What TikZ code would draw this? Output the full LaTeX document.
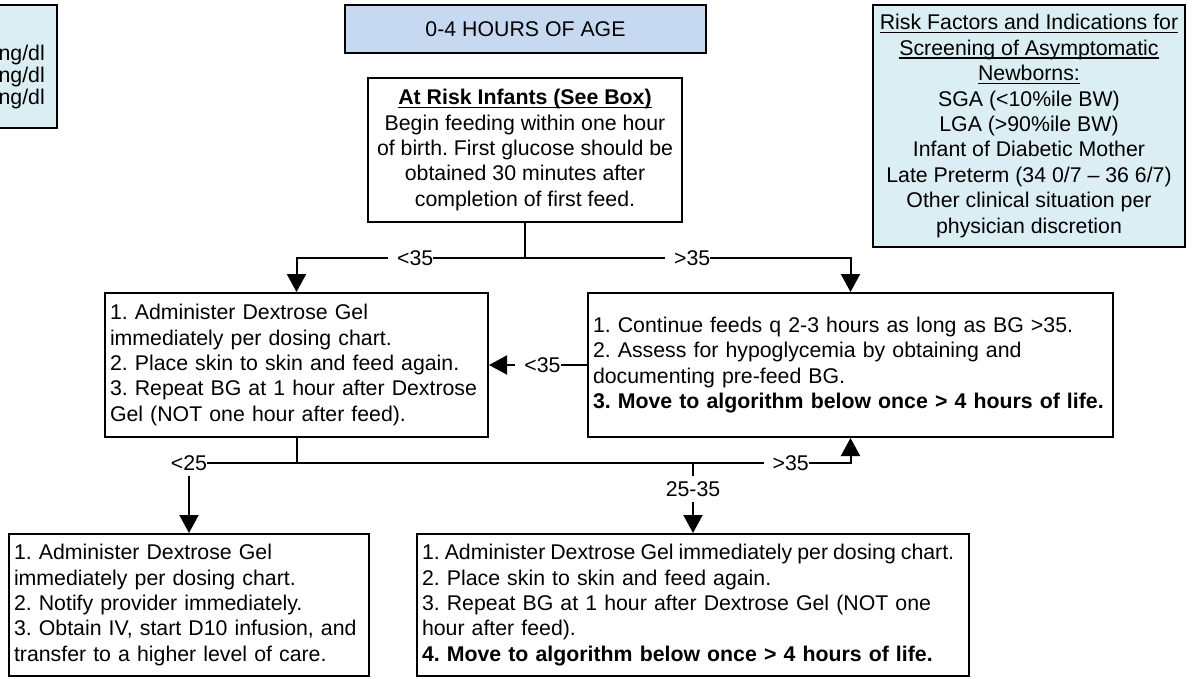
\documentclass[tikz,border=0pt]{standalone}
\usepackage{fontspec}
\setmainfont{Liberation Sans}
\usetikzlibrary{arrows.meta}
\definecolor{titlefill}{HTML}{C6D9F1}
\definecolor{infofill}{HTML}{DBEEF4}
\frenchspacing
\hfuzz=20pt
\newcommand\myul[1]{\setbox0\hbox{#1}\leavevmode\rlap{\vrule width\wd0 height -2.0pt depth 3.4pt}\box0}
\begin{document}
\begin{tikzpicture}[x=1pt,y=-1pt,
  every node/.style={font=\fontsize{21.3}{25.4}\selectfont},
  box/.style={draw, line width=2pt, rectangle, inner xsep=5pt, inner ysep=0pt},
  lbox/.style={box, align=left},
  lbl/.style={fill=white, inner xsep=0pt, inner ysep=5.5pt},
  conn/.style={line width=2pt},
  arr/.style={line width=2pt, -{Triangle[length=18pt,width=19pt]}}]
\useasboundingbox (0,0) rectangle (1194,678);

% partly visible box at the left edge
\begin{scope}
\clip (0,0) rectangle (100,140);
\node[box, fill=infofill, minimum width=80pt, minimum height=123pt] (cut) at (17,66.5) {};
\node[anchor=east, align=right, inner sep=0pt, font=\fontsize{21.3}{22}\selectfont] (cuttxt) at (45,77) {ng/dl\\ng/dl\\ng/dl};
\end{scope}

% title
\node[box, fill=titlefill, minimum width=361pt, minimum height=48pt] (title) at (525.5,29) {0-4 HOURS OF AGE};

% risk factors
\node[box, fill=infofill, align=center, minimum width=312pt, minimum height=242pt] (risk) at (1029,126)
 {\myul{Risk Factors and Indications for}\\\myul{Screening of Asymptomatic}\\\myul{Newborns:}\\SGA (<10\%ile BW)\\LGA (>90\%ile BW)\\Infant of Diabetic Mother\\Late Preterm (34 0/7 – 36 6/7)\\Other clinical situation per\\physician discretion};

% top box
\node[box, align=center, minimum width=314pt, minimum height=144pt] (top) at (525,150)
 {\textbf{\myul{At Risk Infants (See Box)}}\\Begin feeding within one hour\\of birth. First glucose should be\\obtained 30 minutes after\\completion of first feed.};

% middle boxes
\node[lbox, text width=373pt, minimum height=144pt] (lm) at (296.5,365)
 {1. Administer Dextrose Gel\\immediately per dosing chart.\\2. Place skin to skin and feed again.\\3. Repeat BG at 1 hour after Dextrose\\Gel (NOT one hour after feed).};
\node[lbox, text width=515pt, minimum height=144pt] (rm) at (850.5,365)
 {1. Continue feeds q 2-3 hours as long as BG >35.\\2. Assess for hypoglycemia by obtaining and\\documenting pre-feed BG.\\\textbf{3. Move to algorithm below once > 4 hours of life.}};

% bottom boxes
\node[lbox, text width=350pt, minimum height=142pt] (bl) at (189,605)
 {1. Administer Dextrose Gel\\immediately per dosing chart.\\2. Notify provider immediately.\\3. Obtain IV, start D10 infusion, and\\transfer to a higher level of care.};
\node[lbox, text width=542pt, minimum height=142pt] (br) at (693,605)
 {\mbox{\spaceskip=5pt 1. Administer Dextrose Gel immediately per dosing chart.}\\2. Place skin to skin and feed again.\\3. Repeat BG at 1 hour after Dextrose Gel (NOT one\\hour after feed).\\\textbf{4. Move to algorithm below once > 4 hours of life.}};

% connectors
\coordinate (j1) at (525,258);
\coordinate (j2) at (296.5,463);
\coordinate (j3) at (693,463);
\draw[conn] (top.south) -- (j1);
\draw[arr] (j1) -| (lm.north) node[lbl, pos=0.25] {\hspace*{9pt}<35};
\draw[arr] (j1) -| (rm.north) node[lbl, pos=0.25] {\hspace*{9pt}>35};
\draw[arr] (rm.west) -- (lm.east) node[lbl, pos=0.5] {\hspace*{9pt}<35};
\draw[conn] (lm.south) -- (j2);
\draw[arr] (j2) -| (bl.north) node[lbl, pos=0.5] {<25};
\draw[arr] (j2) -| (rm.south) node[lbl, pos=0.442] {\hspace*{9pt}>35};
\draw[arr] (j3) -- (br.north) node[lbl, pos=0.37] {25-35};
\end{tikzpicture}
\end{document}
